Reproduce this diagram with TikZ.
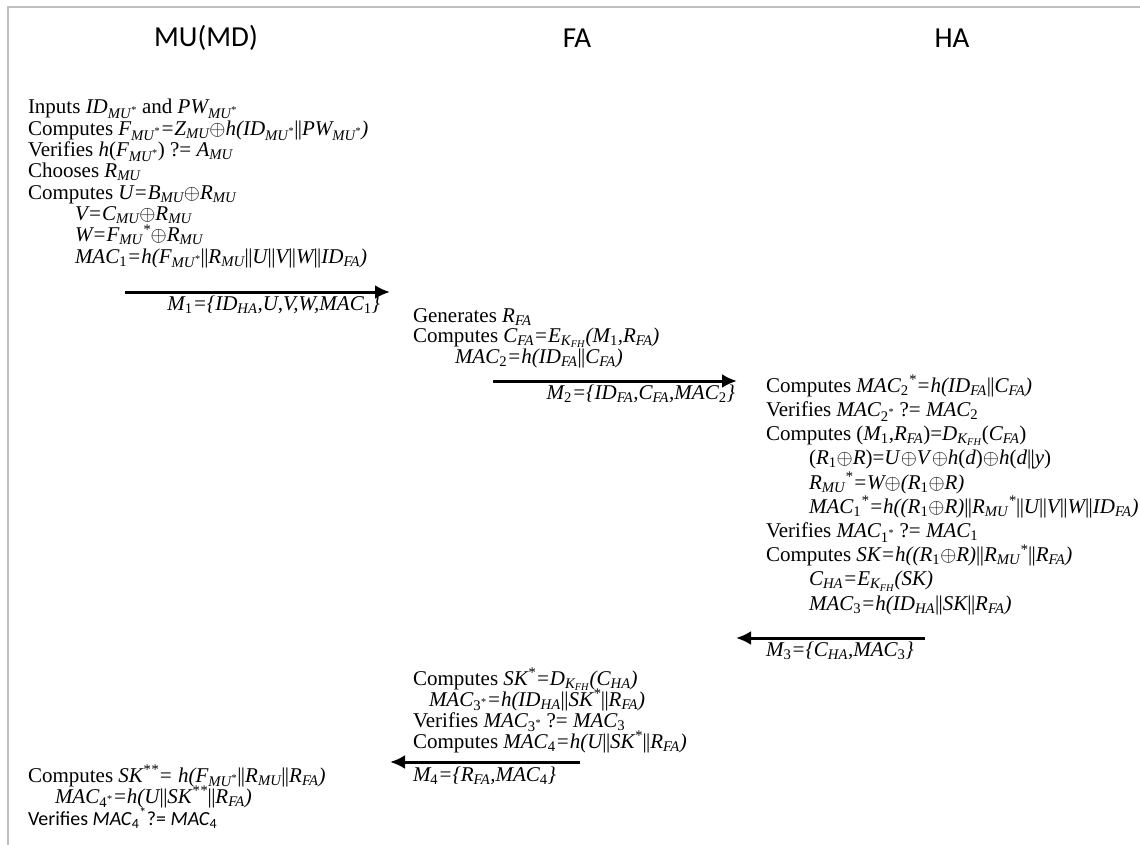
\documentclass[tikz,border=0pt]{standalone}
\usepackage{fontspec}
\setmainfont{Liberation Serif}
\newfontfamily\headfont{Carlito}
\usetikzlibrary{arrows.meta}

\newcommand\sub[1]{\textsubscript{#1}}
\newcommand\nsub[1]{\textsubscript{\textup{#1}}}
\newcommand\st{\textsuperscript{*}}
\newcommand\xor{\ensuremath{\oplus}}
\newcommand\bb{{\upshape|\kern-0.6pt|}}
\newcommand\ind[1][44pt]{\hspace*{#1}}
\lineskiplimit=-50pt

\begin{document}
\begin{tikzpicture}[x=1pt, y=-1pt,
    every node/.style={inner sep=0pt, outer sep=0pt},
    party/.style={font=\headfont\fontsize{29}{34}\selectfont},
    actions/.style={align=left, anchor=base west,
        font=\fontsize{21}{21.3}\selectfont},
    msg/.style={line width=3pt, -{Latex[length=15pt,width=14pt]}},
    msglabel/.style={font=\fontsize{21}{21}\selectfont}]

\useasboundingbox (0,0) rectangle (1140,845);
\draw[black!25, line width=2pt] (1140,7) -- (8,7) -- (8,845);

% the three parties
\node[party] (mu) at (206,38) {MU(MD)};
\node[party] (fa) at (577,38) {FA};
\node[party] (ha) at (952,38) {HA};

% MU side, login (placed by its last line)
\node[actions] (mulogin) at (28,263) {
    Inputs \textit{ID\sub{MU\st}} and \textit{PW\sub{MU\st}}\\
    Computes \textit{F\sub{MU\st}=Z\sub{MU}\xor h(ID\sub{MU\st}\bb PW\sub{MU\st})}\\
    Verifies \textit{h}(\textit{F\sub{MU\st}}) ?= \textit{A\sub{MU}}\\
    Chooses \textit{R\sub{MU}}\\
    Computes \textit{U=B\sub{MU}\xor R\sub{MU}}\\
    \ind[47pt]\textit{V=C\sub{MU}\xor R\sub{MU}}\\
    \ind[47pt]\textit{W=F\sub{MU}\st\xor R\sub{MU}}\\
    \ind[47pt]\textit{MAC\nsub{1}=h(F\sub{MU\st}\bb R\sub{MU}\bb U\bb V\bb W\bb ID\sub{FA})}
    };

% FA side, forward
\node[actions, font=\fontsize{21}{20.5}\selectfont] (faforward) at (413,363) {
    Generates \textit{R\sub{FA}}\\
    Computes \textit{C\sub{FA}=E\sub{K\sub{FH}}(M\nsub{1},R\sub{FA})}\\
    \ind[42pt]\textit{MAC\nsub{2}=h(ID\sub{FA}\bb C\sub{FA})}
    };

% HA side
\node[actions, font=\fontsize{21}{24.2}\selectfont] (hacheck) at (766,610) {
    Computes \textit{MAC\nsub{2}\st=h(ID\sub{FA}\bb C\sub{FA})}\\
    Verifies \textit{MAC\sub{\textup{2}\st}} ?= \textit{MAC\nsub{2}}\\
    Computes (\textit{M\nsub{1},R\sub{FA}})=\textit{D\sub{K\sub{FH}}}(\textit{C\sub{FA}})\\
    \ind[43pt](\textit{R\nsub{1}}\xor\textit{R})=\textit{U}\xor\textit{V}\xor\textit{h}(\textit{d})\xor\textit{h}(\textit{d}\bb\textit{y})\\
    \ind[43pt]\textit{R\sub{MU}\st=W\xor(R\nsub{1}\xor R)}\\
    \ind[43pt]\textit{MAC\nsub{1}\st=h((R\nsub{1}\xor R)\bb R\sub{MU}\st\bb U\bb V\bb W\bb ID\sub{FA})}\\
    Verifies \textit{MAC\sub{\textup{1}\st}} ?= \textit{MAC\nsub{1}}\\
    Computes \textit{SK=h((R\nsub{1}\xor R)\bb R\sub{MU}\st\bb R\sub{FA})}\\
    \ind[43pt]\textit{C\sub{HA}=E\sub{K\sub{FH}}(SK)}\\
    \ind[43pt]\textit{MAC\nsub{3}=h(ID\sub{HA}\bb SK\bb R\sub{FA})}
    };

% FA side, backward
\node[actions, font=\fontsize{21}{21}\selectfont] (faback) at (413,748) {
    Computes \textit{SK\st=D\sub{K\sub{FH}}(C\sub{HA})}\\
    \ind[16pt]\textit{MAC\sub{\textup{3}\st}=h(ID\sub{HA}\bb SK\st\bb R\sub{FA})}\\
    Verifies \textit{MAC\sub{\textup{3}\st}} ?= \textit{MAC\nsub{3}}\\
    Computes \textit{MAC\nsub{4}=h(U\bb SK\st\bb R\sub{FA})}
    };

% MU side, session key
\node[actions, font=\fontsize{21}{21}\selectfont] (mukey) at (28,825) {
    Computes \textit{SK\st\st= h(F\sub{MU\st}\bb R\sub{MU}\bb R\sub{FA})}\\
    \ind[27pt]\textit{MAC\sub{\textup{4}\st}=h(U\bb SK\st\st\bb R\sub{FA})}\\[1pt]
    {\headfont\fontsize{20}{24}\selectfont Verifies \textit{MAC}\textsubscript{4}\textsuperscript{*}?= \textit{MAC}\textsubscript{4}}
    };

% messages
\coordinate (m1s) at (125,292);
\coordinate (m1e) at (390,292);
\coordinate (m2s) at (493,381);
\coordinate (m2e) at (737,381);
\coordinate (m3s) at (925,638);
\coordinate (m3e) at (736,638);
\coordinate (m4s) at (580,762);
\coordinate (m4e) at (390,762);

\draw[msg] (m1s) -- (m1e) node[msglabel, anchor=base east, xshift=-10pt, yshift=-18pt]
    {\textit{M\nsub{1}=\{ID\sub{HA},U,V,W,MAC\nsub{1}\}}};
\draw[msg] (m2s) -- (m2e) node[msglabel, anchor=base east, xshift=-2pt, yshift=-18pt]
    {\textit{M\nsub{2}=\{ID\sub{FA},C\sub{FA},MAC\nsub{2}\}}};
\draw[msg] (m3s) -- (m3e) node[msglabel, anchor=base west, xshift=30pt, yshift=-18pt]
    {\textit{M\nsub{3}=\{C\sub{HA},MAC\nsub{3}\}}};
\draw[msg] (m4s) -- (m4e) node[msglabel, anchor=base west, xshift=23pt, yshift=-19pt]
    {\textit{M\nsub{4}=\{R\sub{FA},MAC\nsub{4}\}}};

\end{tikzpicture}
\end{document}
